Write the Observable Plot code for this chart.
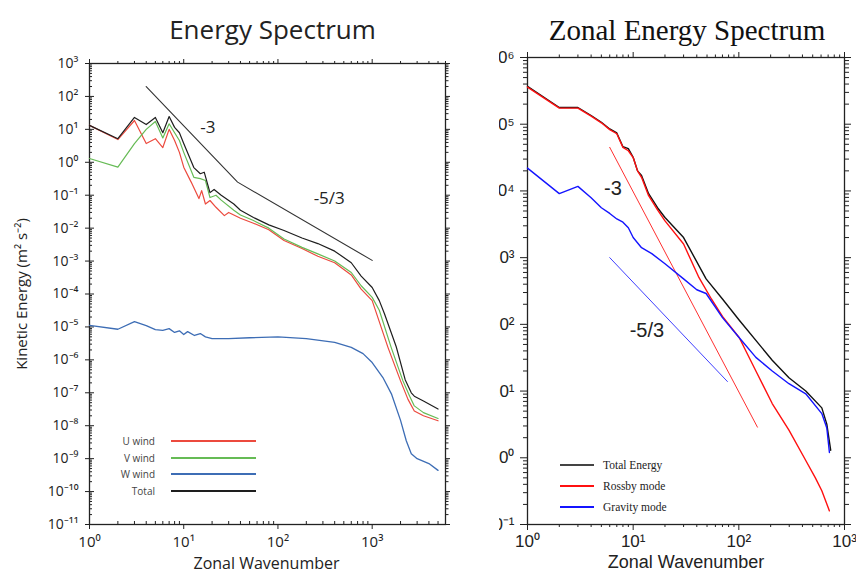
<!DOCTYPE html>
<html><head><meta charset="utf-8">
<script src="https://cdn.jsdelivr.net/npm/d3@7"></script>
<script src="https://cdn.jsdelivr.net/npm/@observablehq/plot@0.6"></script>
<style>
body{margin:0;background:#fff;}
#wrap{position:relative;width:856px;height:572px;overflow:hidden;background:#fff;}
#left{position:absolute;left:0;top:0;}
#right{position:absolute;left:499px;top:0;width:357px;height:572px;overflow:hidden;}
.lt{position:absolute;white-space:nowrap;}
.ll{position:absolute;height:1.5px;}
</style></head><body><div id="wrap"><div id="left"></div><div id="right"></div></div>
<script>
// ---------- Left panel data: [zonal wavenumber, kinetic energy (m^2 s^-2)] ----------
const uWind = [[1,13.2],[2,4.9],[3,18.6],[4,3.7],[5,5.2],[6,2.8],[7,10],[8,4.6],[9,2.0],[10,0.71],[12,0.25],[14.5,0.079],[15.5,0.138],[17,0.054],[19,0.069],[22,0.043],[27,0.024],[30,0.03],[40,0.02],[55,0.0141],[80,0.0089],[116,0.0042],[180,0.0024],[265,0.0014],[400,8.9e-4],[600,3.8e-4],[764,1.41e-4],[1000,6.3e-5],[1470,2.4e-6],[2000,2.3e-7],[2400,6.3e-8],[2800,2.8e-8],[3500,2.0e-8],[5000,1.41e-8]];
const vWind = [[1,1.3],[2,0.71],[3,3.7],[4,10],[5,17.4],[6,5.5],[7,14.8],[8,7.9],[9,4.6],[10,2.0],[12.8,0.35],[15,0.32],[17,0.28],[19,0.085],[22,0.1],[25,0.071],[34,0.035],[40,0.025],[55,0.017],[80,0.01],[116,0.0047],[180,0.0026],[265,0.00166],[400,0.001],[600,4.5e-4],[764,1.78e-4],[1000,7.9e-5],[1190,3.2e-5],[1590,2.4e-6],[2120,2.3e-7],[2500,7.9e-8],[2800,4.0e-8],[3500,2.5e-8],[5000,1.66e-8]];
const wWind = [[1,1.12e-5],[2,8.5e-6],[3,1.45e-5],[4,1.1e-5],[5,8.3e-6],[6,7.9e-6],[7,8.9e-6],[8,6.8e-6],[9,7.6e-6],[10,5.9e-6],[11,7.2e-6],[13,5.5e-6],[15,6.3e-6],[17,5.0e-6],[20,4.4e-6],[30,4.4e-6],[50,4.7e-6],[100,5.0e-6],[200,4.4e-6],[400,3.4e-6],[600,2.4e-6],[800,1.55e-6],[1000,8.3e-7],[1300,2.9e-7],[1600,9.3e-8],[2000,1.45e-8],[2300,3.5e-9],[2600,1.41e-9],[3000,1.0e-9],[4000,7.1e-10],[5000,4.4e-10]];
const totalWind = [[1,13.2],[2,5.2],[3,23],[4,14],[5,23],[6,7.9],[7,24.5],[8,11.5],[9,7.9],[10,3.7],[12.8,0.69],[15,0.45],[16.5,0.5],[19,0.12],[21,0.15],[25,0.1],[34,0.054],[40,0.035],[55,0.021],[80,0.0126],[116,0.0085],[180,0.005],[265,0.0034],[400,0.002],[600,8.9e-4],[764,3.5e-4],[1000,1.58e-4],[1190,6.3e-5],[1350,2.5e-5],[1800,2.5e-6],[2240,2.5e-7],[2600,1.0e-7],[2800,7.9e-8],[3500,5.6e-8],[5000,3.2e-8]];
const slopeLeft = [[4,200],[37.3,0.25],[1000,0.00105]];
const annotLeft = [[18,11.5,"-3"],[350,0.08,"-5/3"]];
const legendLeft = ["U wind","V wind","W wind","Total"];

// ---------- Right panel data ----------
const totalEnergy = [[1,3.7e5],[2,1.78e5],[3,1.78e5],[4,1.35e5],[5,1.07e5],[6,8.5e4],[7,7.4e4],[8,4.6e4],[9,4.3e4],[10,3.2e4],[11,2.0e4],[12,1.7e4],[14,9.1e3],[17,5.6e3],[20,4.0e3],[30,2.0e3],[49,480],[70,240],[101,115],[207,29],[298,15.8],[430,10],[610,5.6],[680,3.2],[740,1.3]];
const rossbyMode = [[1,3.6e5],[2,1.74e5],[3,1.74e5],[4,1.32e5],[5,1.05e5],[6,8.3e4],[7,7.2e4],[8,4.5e4],[9,4.0e4],[10,3.16e4],[11,2.0e4],[12,1.6e4],[14,8.5e3],[17,5.2e3],[20,3.55e3],[30,1.6e3],[42,500],[55,240],[70,132],[101,63],[145,20],[207,6.5],[298,2.6],[430,0.91],[530,0.5],[610,0.32],[720,0.16]];
const gravityMode = [[1,2.2e4],[2,9.1e3],[3,1.17e4],[4,7.9e3],[5,5.6e3],[6,4.6e3],[7,3.8e3],[8,3.4e3],[9,2.8e3],[10,2.0e3],[12,1.41e3],[15,1.15e3],[20,810],[30,480],[40,330],[49,290],[70,126],[101,63],[145,32],[207,20],[298,12.9],[430,9.1],[610,4.6],[680,2.8],[720,1.2]];
const slopeRossby = [[6,45000],[150,2.88]];
const slopeGravity = [[6,1000],[78,13.9]];
const annotRight = [[6.44,1.1e4,"-3"],[13.5,81,"-5/3"]];
const legendRight = ["Total Energy","Rossby mode","Gravity mode"];

// ---------- tick helpers ----------
const sup = s => String(s).replace(/[-0-9]/g, c => "⁻⁰¹²³⁴⁵⁶⁷⁸⁹"["-0123456789".indexOf(c)]);
const pow10 = d => "10" + sup(Math.round(Math.log10(d)));
const decades = (a, b) => d3.range(a, b + 1).map(p => +(`1e${p}`));
const minors = (a, b, max) => { const o = []; for (let p = a; p <= b; p++) for (let m = 2; m <= 9; m++) { const v = +(`${m}e${p}`); if (v <= max) o.push(v); } return o; };
const none = () => "";
const X = d => d[0], Y = d => d[1];

const lxMaj = decades(0, 3), lxMin = minors(0, 3, 6000);
const lyMaj = decades(-11, 3), lyMin = minors(-11, 2, 1000);

const left = Plot.plot({
  width: 450, height: 572, marginLeft: 89, marginRight: 5, marginTop: 63, marginBottom: 48,
  x: {type: "log", domain: [1, 6000], label: null},
  y: {type: "log", domain: [1e-11, 1e3], label: null},
  style: {fontFamily: "'Open Sans', sans-serif", color: "#222", background: "transparent", overflow: "visible"},
  marks: [
    Plot.axisY({ticks: lyMaj, tickFormat: pow10, tickSize: 4, tickPadding: 7, fontSize: 14}),
    Plot.axisY({ticks: lyMaj, tickSize: -5, tickFormat: none}),
    Plot.axisY({ticks: lyMin, tickSize: -3, tickFormat: none}),
    Plot.axisY({ticks: lyMaj, anchor: "right", tickSize: 4, tickFormat: none}),
    Plot.axisY({ticks: lyMin, anchor: "right", tickSize: 2.5, tickFormat: none}),
    Plot.axisX({ticks: lxMaj, tickFormat: pow10, tickSize: 5, tickPadding: 7, fontSize: 15}),
    Plot.axisX({ticks: lxMin, tickSize: -3, tickFormat: none}),
    Plot.axisX({ticks: lxMaj, anchor: "top", tickSize: 5, tickFormat: none}),
    Plot.axisX({ticks: lxMin, anchor: "top", tickSize: 3, tickFormat: none}),
    Plot.frame({stroke: "#222", strokeWidth: 1.3}),
    Plot.line(uWind, {x: X, y: Y, stroke: "#ec4a3e", strokeWidth: 1.2}),
    Plot.line(vWind, {x: X, y: Y, stroke: "#66bb55", strokeWidth: 1.2}),
    Plot.line(totalWind, {x: X, y: Y, stroke: "#1e1e1e", strokeWidth: 1.2}),
    Plot.line(wWind, {x: X, y: Y, stroke: "#3d6db5", strokeWidth: 1.3}),
    Plot.line(slopeLeft, {x: X, y: Y, stroke: "#333", strokeWidth: 1.1}),
    Plot.text(annotLeft, {x: X, y: Y, text: d => d[2], fontSize: 17, fill: "#222"}),
    Plot.text(["Energy Spectrum"], {text: d => d, frameAnchor: "top", dx: 5, dy: -25, lineAnchor: "bottom", fontSize: 26, fill: "#222"}),
    Plot.text(["Zonal Wavenumber"], {text: d => d, frameAnchor: "bottom", dx: -1, dy: 44, lineAnchor: "bottom", fontSize: 16, fill: "#222"}),
    Plot.text(["Kinetic Energy (m² s⁻²)"], {text: d => d, frameAnchor: "left", textAnchor: "middle", dx: -67, rotate: -90, fontSize: 15, fill: "#222"})
  ]
});
document.getElementById("left").appendChild(left);

const rxMaj = decades(0, 3), rxMin = minors(0, 2, 1000);
const ryMaj = decades(-1, 6), ryMin = minors(-1, 5, 1e6);

const right = Plot.plot({
  width: 357, height: 572, marginLeft: 28, marginRight: 12, marginTop: 57, marginBottom: 48,
  x: {type: "log", domain: [1, 1000], label: null},
  y: {type: "log", domain: [0.1, 1e6], label: null},
  style: {fontFamily: "'Liberation Sans', Arial, sans-serif", color: "#222", background: "transparent", overflow: "visible"},
  marks: [
    Plot.axisY({ticks: ryMaj, tickFormat: pow10, tickSize: 7, tickPadding: 6, fontSize: 17}),
    Plot.axisY({ticks: ryMin, tickSize: 4, tickFormat: none}),
    Plot.axisY({ticks: ryMaj, anchor: "right", tickSize: 6, tickFormat: none}),
    Plot.axisY({ticks: ryMin, anchor: "right", tickSize: 4, tickFormat: none}),
    Plot.axisX({ticks: rxMaj, tickFormat: pow10, tickSize: 6, tickPadding: 4, fontSize: 17}),
    Plot.axisX({ticks: rxMin, tickSize: 3, tickFormat: none}),
    Plot.axisX({ticks: rxMaj, anchor: "top", tickSize: 6, tickFormat: none}),
    Plot.axisX({ticks: rxMin, anchor: "top", tickSize: 3.5, tickFormat: none}),
    Plot.frame({stroke: "#222", strokeWidth: 1.3}),
    Plot.line(slopeRossby, {x: X, y: Y, stroke: "#ff3030", strokeWidth: 1}),
    Plot.line(slopeGravity, {x: X, y: Y, stroke: "#4040ff", strokeWidth: 1}),
    Plot.line(totalEnergy, {x: X, y: Y, stroke: "#111", strokeWidth: 1.4}),
    Plot.line(rossbyMode, {x: X, y: Y, stroke: "#ff1010", strokeWidth: 1.4}),
    Plot.line(gravityMode, {x: X, y: Y, stroke: "#1414ff", strokeWidth: 1.4}),
    Plot.text(annotRight, {x: X, y: Y, text: d => d[2], fontSize: 20, fill: "#222"}),
    Plot.text(["Zonal Energy Spectrum"], {text: d => d, frameAnchor: "top", dx: 1, dy: -18, lineAnchor: "bottom", fontSize: 29, fontFamily: "'Liberation Serif', 'Times New Roman', serif", fill: "#111"}),
    Plot.text(["Zonal Wavenumber"], {text: d => d, frameAnchor: "bottom", dx: 0, dy: 43, lineAnchor: "bottom", fontSize: 18, fill: "#222"})
  ]
});
document.getElementById("right").appendChild(right);

// ---------- legends (HTML) ----------
const wrap = document.getElementById("wrap");
function addText(txt, x, y, opts) {
  const d = document.createElement("div");
  d.className = "lt"; d.textContent = txt;
  d.style.font = opts.font; d.style.color = opts.color;
  d.style.lineHeight = "14px"; d.style.top = (y - 7) + "px";
  if (opts.align === "right") { d.style.right = (856 - x) + "px"; } else { d.style.left = x + "px"; }
  wrap.appendChild(d);
}
function addLine(x1, x2, y, color, h) {
  const d = document.createElement("div");
  d.className = "ll"; d.style.left = x1 + "px"; d.style.width = (x2 - x1) + "px";
  d.style.top = (y - h / 2) + "px"; d.style.height = h + "px"; d.style.background = color;
  wrap.appendChild(d);
}
const leftColors = ["#ec4a3e", "#66bb55", "#3d6db5", "#1e1e1e"];
legendLeft.forEach((t, i) => {
  const y = [441, 458, 474, 491][i];
  addText(t, 155, y, {font: "10px 'Open Sans', sans-serif", color: "#444", align: "right"});
  addLine(171, 256, y, leftColors[i], 1.5);
});
const rightColors = ["#444", "#ff1010", "#1414ff"];
legendRight.forEach((t, i) => {
  const y = [465, 486, 507][i];
  addText(t, 603, y, {font: "11.5px 'Liberation Serif', serif", color: "#222", align: "left"});
  addLine(560, 594, y, rightColors[i], 1.5);
});
</script></body></html>
